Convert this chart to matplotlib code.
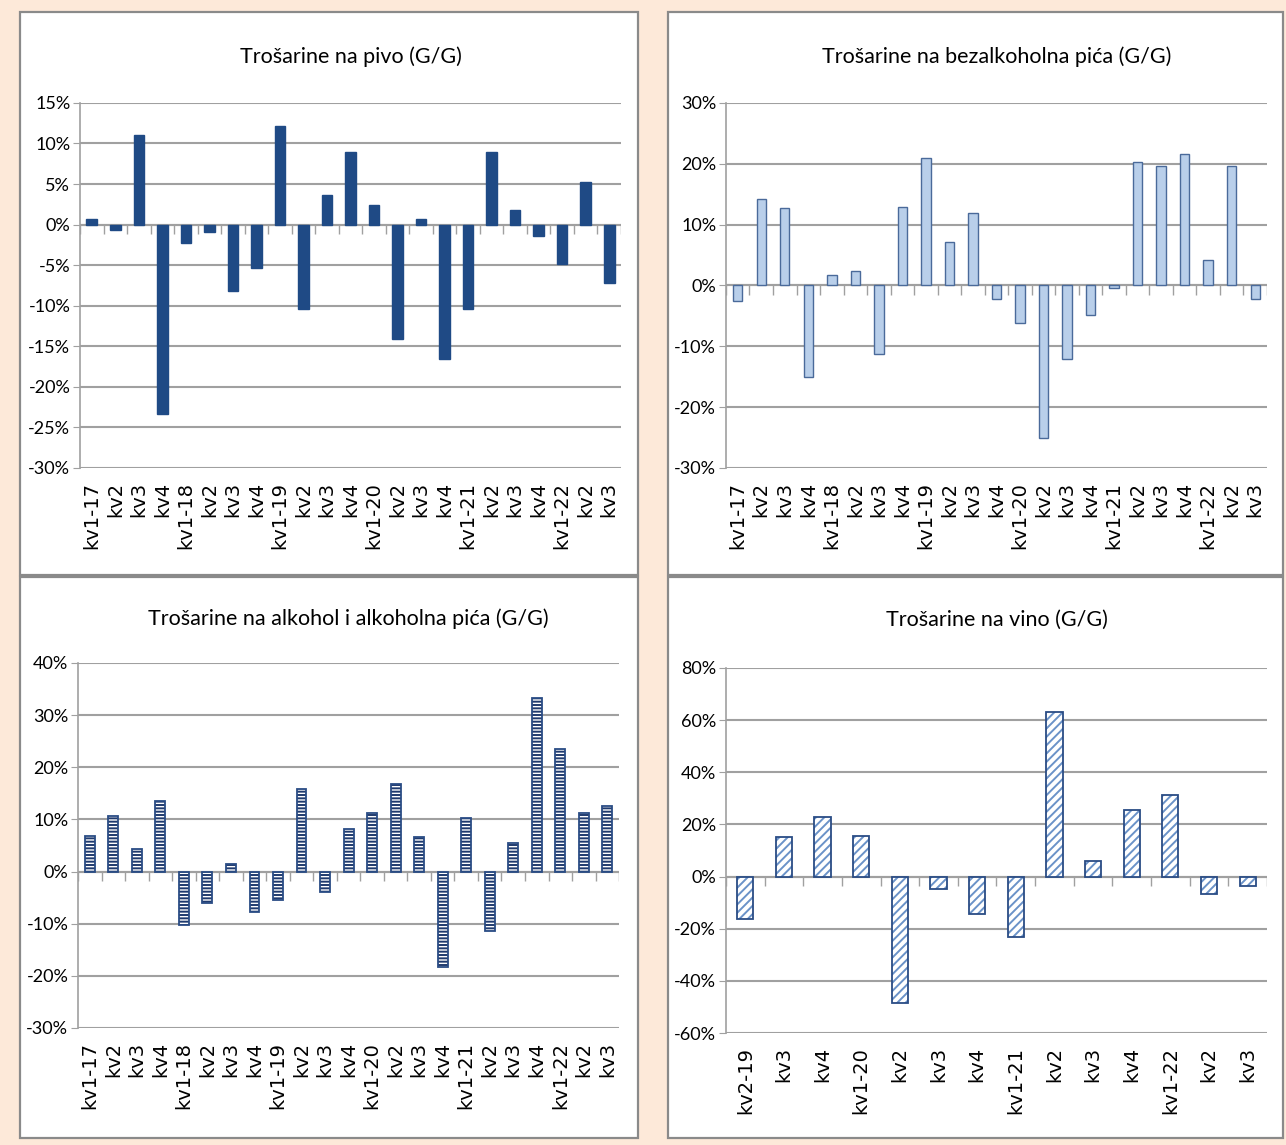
import numpy as np
import matplotlib
matplotlib.use("Agg")
import matplotlib.pyplot as plt
from matplotlib.patches import Rectangle
import matplotlib.transforms as mtransforms

plt.rcParams['font.family'] = ['Lato', 'DejaVu Sans']
plt.rcParams['hatch.linewidth'] = 1.4

# category labels
quarters_long = ["kv1-17", "kv2", "kv3", "kv4",
                 "kv1-18", "kv2", "kv3", "kv4",
                 "kv1-19", "kv2", "kv3", "kv4",
                 "kv1-20", "kv2", "kv3", "kv4",
                 "kv1-21", "kv2", "kv3", "kv4",
                 "kv1-22", "kv2", "kv3"]
quarters_vino = ["kv2-19", "kv3", "kv4",
                 "kv1-20", "kv2", "kv3", "kv4",
                 "kv1-21", "kv2", "kv3", "kv4",
                 "kv1-22", "kv2", "kv3"]

# year-on-year changes, %
pivo = [0.7, -0.7, 11.1, -23.4, -2.3, -0.9, -8.2, -5.3, 12.2, -10.4, 3.7, 9.0,
        2.4, -14.1, 0.7, -16.6, -10.4, 8.9, 1.8, -1.4, -4.8, 5.2, -7.2]
bezalkoholna = [-2.5, 14.2, 12.7, -15.0, 1.7, 2.3, -11.3, 12.9, 20.9, 7.2, 11.9, -2.2,
                -6.2, -25.0, -12.1, -4.9, -0.5, 20.3, 19.7, 21.6, 4.2, 19.7, -2.2]
alkohol = [6.9, 10.7, 4.3, 13.6, -10.3, -6.0, 1.5, -7.8, -5.5, 15.8, -4.0, 8.2,
           11.2, 16.8, 6.6, -18.3, 10.2, -11.4, 5.5, 33.3, 23.5, 11.2, 12.5]
vino = [-16.1, 15.2, 22.7, 15.7, -48.6, -4.7, -14.2, -23.3, 63.3, 5.8, 25.6, 31.1,
        -6.6, -3.7]

W, H = 1286, 1145
fig = plt.figure(figsize=(W / 100, H / 100), dpi=100)
fig.patch.set_facecolor('#FDE9D9')

# white chart panels (pixel boxes -> figure fractions)
def px_rect(x0, y0, x1, y1):
    return Rectangle((x0 / W, 1 - y1 / H), (x1 - x0) / W, (y1 - y0) / H,
                     transform=fig.transFigure, facecolor='white',
                     edgecolor='#8a8a8a', lw=1.6, zorder=-5)

for r in [(20, 12, 638, 575), (668, 12, 1283, 575),
          (20, 577, 638, 1138), (668, 577, 1283, 1138)]:
    fig.patches.append(px_rect(*r))


def panel(rect, labels, values, ylim, step, title, bar_kw, width, pad,
          outline=None):
    ax = fig.add_axes(rect)
    ax.set_facecolor('none')
    x = np.arange(len(labels))
    ax.bar(x, values, width=width, zorder=3, **bar_kw)
    if outline:
        ax.bar(x, values, width=width, zorder=4, facecolor='none',
               edgecolor=outline, lw=1.3)
    ax.set_xlim(-0.5, len(labels) - 0.5)
    ax.set_ylim(*ylim)
    ticks = np.arange(ylim[0], ylim[1] + step / 2, step)
    ax.set_yticks(ticks)
    ax.set_yticklabels([f"{int(t)}%" for t in ticks], fontsize=13)
    ax.yaxis.grid(True, color='#a0a0a0', lw=1.5, zorder=1)
    ax.set_axisbelow(True)
    for s in ['top', 'right', 'bottom']:
        ax.spines[s].set_visible(False)
    ax.spines['left'].set_color('#a0a0a0')
    ax.spines['left'].set_linewidth(1.2)
    ax.tick_params(axis='y', length=5, color='#a0a0a0', pad=2)
    ax.set_xticks(x)
    ax.set_xticklabels(labels, rotation=90, fontsize=14, family='DejaVu Sans')
    ax.tick_params(axis='x', length=0, pad=10)
    # zero line with category-boundary tick marks
    ax.axhline(0, color='#a0a0a0', lw=1.5, zorder=2)
    trans = mtransforms.blended_transform_factory(ax.transData, ax.transAxes)
    y0 = (0 - ylim[0]) / (ylim[1] - ylim[0])
    ax.vlines(np.arange(len(labels) + 1) - 0.5, y0 - 0.025, y0,
              transform=trans, color='#a0a0a0', lw=1.0, zorder=2)
    ax.set_title(title, fontsize=15.5, pad=pad)
    return ax


panel([0.0622, 0.5913, 0.4207, 0.3188], quarters_long, pivo, (-30, 15), 5,
      "Trošarine na pivo (G/G)",
      dict(color='#1F4A85', edgecolor='#1F4A85'), 0.45, 29)

panel([0.5645, 0.5913, 0.4207, 0.3188], quarters_long, bezalkoholna, (-30, 30), 10,
      "Trošarine na bezalkoholna pića (G/G)",
      dict(color='#B9CFEA', edgecolor='#4A6A9A', lw=1.0), 0.4, 29)

panel([0.0607, 0.1022, 0.4207, 0.3188], quarters_long, alkohol, (-30, 40), 10,
      "Trošarine na alkohol i alkoholna pića (G/G)",
      dict(facecolor='white', edgecolor='#1F3A6E', hatch='-----', lw=0), 0.42, 27,
      outline='#2A4C85')

panel([0.5645, 0.0978, 0.4207, 0.3188], quarters_vino, vino, (-60, 80), 20,
      "Trošarine na vino (G/G)",
      dict(facecolor='white', edgecolor='#6A92C8', hatch='////', lw=0), 0.42, 30,
      outline='#2A4C85')

plt.savefig("out.png", dpi=100, facecolor=fig.get_facecolor())
